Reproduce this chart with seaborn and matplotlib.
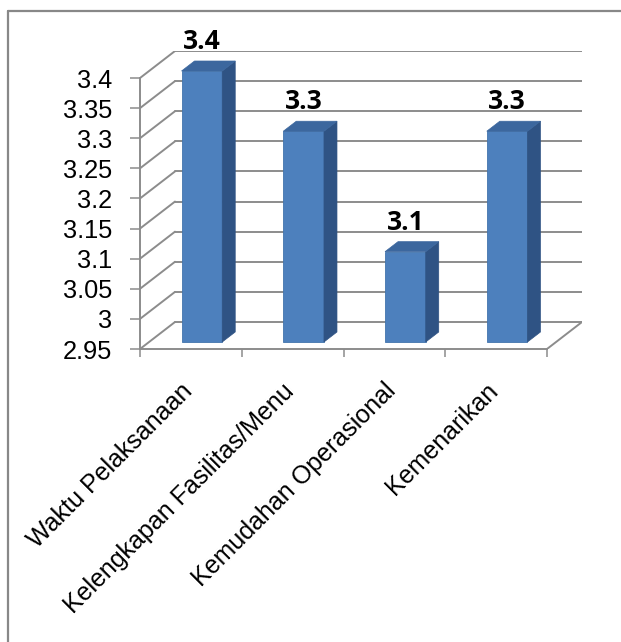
import numpy as np
import pandas as pd
import matplotlib
matplotlib.use("Agg")
import matplotlib.pyplot as plt
from matplotlib.patches import Polygon
from matplotlib.lines import Line2D
import seaborn as sns

# ---- data ----
categories = ["Waktu Pelaksanaan", "Kelengkapan Fasilitas/Menu",
              "Kemudahan Operasional", "Kemenarikan"]
values = [3.4, 3.3, 3.1, 3.3]
value_labels = ["3.4", "3.3", "3.1", "3.3"]
ytick_values = [2.95, 3.0, 3.05, 3.1, 3.15, 3.2, 3.25, 3.3, 3.35, 3.4]
ytick_labels = ["2.95", "3", "3.05", "3.1", "3.15", "3.2", "3.25", "3.3", "3.35", "3.4"]

sns.set_theme(style="white")
plt.rcParams["font.family"] = ["Liberation Sans", "DejaVu Sans"]

W, H = 621, 642
fig = plt.figure(figsize=(W / 100, H / 100), dpi=100)
fig.patch.set_facecolor("white")

# axes: front plane x 140..547 px, y 349(2.95)..78(3.4); back plane offset (+35, -27) px
ax_left, ax_right, ax_top, ax_bottom = 140, 582, 51, 349
ax = fig.add_axes([ax_left / W, 1 - ax_bottom / H, (ax_right - ax_left) / W, (ax_bottom - ax_top) / H])

YMIN, YMAX = 2.95, 3.4
px_per_cat = 407 / 4.0
px_per_unit = 30.1 / 0.05
DX = 35 / px_per_cat
DY = 27 / px_per_unit
BAR_W = 0.40
SHIFT_X = 11 / px_per_cat
SHIFT_Y = 7 / px_per_unit
BDX = 13 / px_per_cat
BDY = 10 / px_per_unit

grid_c = "#8c8c8c"
front_c = "#4d80bd"
side_c = "#2f5384"
top_c = "#3c679e"

df = pd.DataFrame({"cat": categories, "val": values})
sns.barplot(data=df, x="cat", y="val", ax=ax, color=front_c, width=BAR_W,
            saturation=1, edgecolor="#4274ad", linewidth=0.6, zorder=3)

ax.set_xlim(-0.5, 3.5 + DX)
ax.set_ylim(YMIN, YMAX + DY)

# reposition front faces into depth and add side/top faces
for p, v, lab in zip(ax.patches, values, value_labels):
    x0 = p.get_x() + SHIFT_X
    y0 = YMIN + SHIFT_Y
    hgt = v - YMIN
    p.set_x(x0)
    p.set_y(y0)
    p.set_height(hgt)
    x1 = x0 + p.get_width()
    yt = y0 + hgt
    side = Polygon([(x1, y0), (x1, yt), (x1 + BDX, yt + BDY), (x1 + BDX, y0 + BDY)],
                   closed=True, facecolor=side_c, edgecolor=side_c, lw=0.5, zorder=3)
    top = Polygon([(x0, yt), (x0 + BDX, yt + BDY), (x1 + BDX, yt + BDY), (x1, yt)],
                  closed=True, facecolor=top_c, edgecolor=top_c, lw=0.5, zorder=3)
    ax.add_patch(side)
    ax.add_patch(top)
    ax.annotate(lab, xy=((x0 + x1) / 2, yt + BDY), xytext=(0, 8.6),
                textcoords="offset points", ha="center", va="baseline",
                fontsize=19, fontweight="bold", fontfamily=["Open Sans", "DejaVu Sans"],
                color="black", annotation_clip=False, zorder=5)

# 3D walls: back gridlines and side-wall diagonals
for v in ytick_values:
    ax.add_line(Line2D([-0.5 + DX, 3.5 + DX], [v + DY, v + DY], color=grid_c, lw=1.4, zorder=1))
    ax.add_line(Line2D([-0.5, -0.5 + DX], [v, v + DY], color=grid_c, lw=1.4, zorder=1))
ax.add_line(Line2D([3.5, 3.5 + DX], [YMIN, YMIN + DY], color=grid_c, lw=1.4, zorder=1))

# spines
for s in ["top", "right"]:
    ax.spines[s].set_visible(False)
for s in ["left", "bottom"]:
    ax.spines[s].set_color(grid_c)
    ax.spines[s].set_linewidth(1.4)
ax.spines["left"].set_bounds(YMIN, YMAX)
ax.spines["bottom"].set_bounds(-0.5, 3.5)

# y ticks
ax.set_yticks(ytick_values)
ax.set_yticklabels(ytick_labels)
ax.tick_params(axis="y", which="major", length=7.2, width=1.1, color=grid_c,
               pad=13.0, labelsize=18.3, labelcolor="black", left=True)

# x ticks: boundaries as minor ticks, labels at category centres
ax.set_xticks(np.arange(-0.5, 3.6, 1.0), minor=True)
ax.tick_params(axis="x", which="minor", length=5.8, width=1.1, color=grid_c, bottom=True)
ax.set_xticks(np.arange(len(categories)) - 2 / px_per_cat)
ax.set_xticklabels(categories)
ax.tick_params(axis="x", which="major", length=0, pad=27.5, labelsize=18.0, labelcolor="black")
for t in ax.get_xticklabels():
    t.set_rotation(45)
    t.set_ha("right")
    t.set_va("center")
    t.set_rotation_mode("anchor")

ax.set_xlabel("")
ax.set_ylabel("")
ax.set_facecolor("none")
ax.grid(False)

# outer chart frame (only left and top edges visible)
fig.add_artist(Line2D([8 / W, 8 / W], [0, 1 - 11 / H], transform=fig.transFigure,
                      color="#888888", lw=1.6))
fig.add_artist(Line2D([8 / W, 1], [1 - 11 / H, 1 - 11 / H], transform=fig.transFigure,
                      color="#888888", lw=1.6))

fig.savefig("out.png", dpi=100)
